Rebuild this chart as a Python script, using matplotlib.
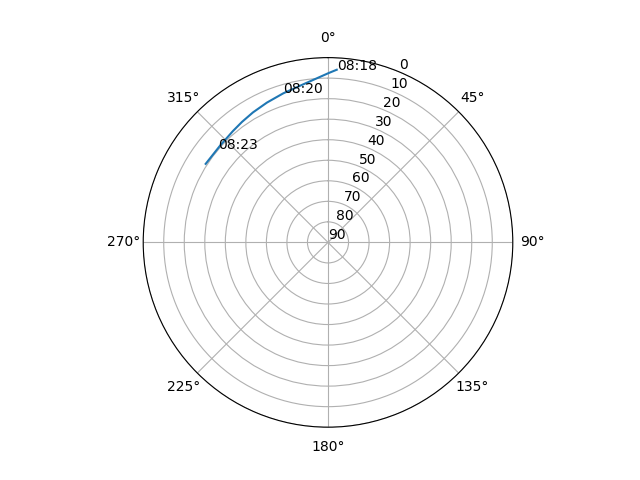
import numpy as np
import matplotlib
matplotlib.use("Agg")
import matplotlib.pyplot as plt

# satellite pass track (azimuth deg, elevation deg)
azimuth = [2.9, 0.1, 356.1, 349.9, 343.3, 336.4, 330.0, 324.5, 319.5, 312.0, 302.7]
elevation = [5.8, 7.6, 9.9, 12.5, 14.2, 15.7, 16.9, 17.9, 18.7, 19.4, 19.2]

# time labels along the track
label_times = ["08:18", "08:20", "08:23"]
label_az = [2.9, 343.3, 310.5]
label_el = [5.8, 14.2, 19.8]


def main():
    fig = plt.figure(figsize=(6.4, 4.8), dpi=100)
    ax = fig.add_subplot(projection="polar")
    ax.set_theta_zero_location("N")
    ax.set_theta_direction(-1)

    theta = np.unwrap(np.radians(azimuth))
    ax.plot(theta, elevation)

    for t, a, e in zip(label_times, label_az, label_el):
        ax.text(np.radians(a), e, t)

    ax.set_rlim(90, 0)
    ax.set_yticks(range(0, 91, 10))

    fig.savefig("out.png")


if __name__ == "__main__":
    main()
